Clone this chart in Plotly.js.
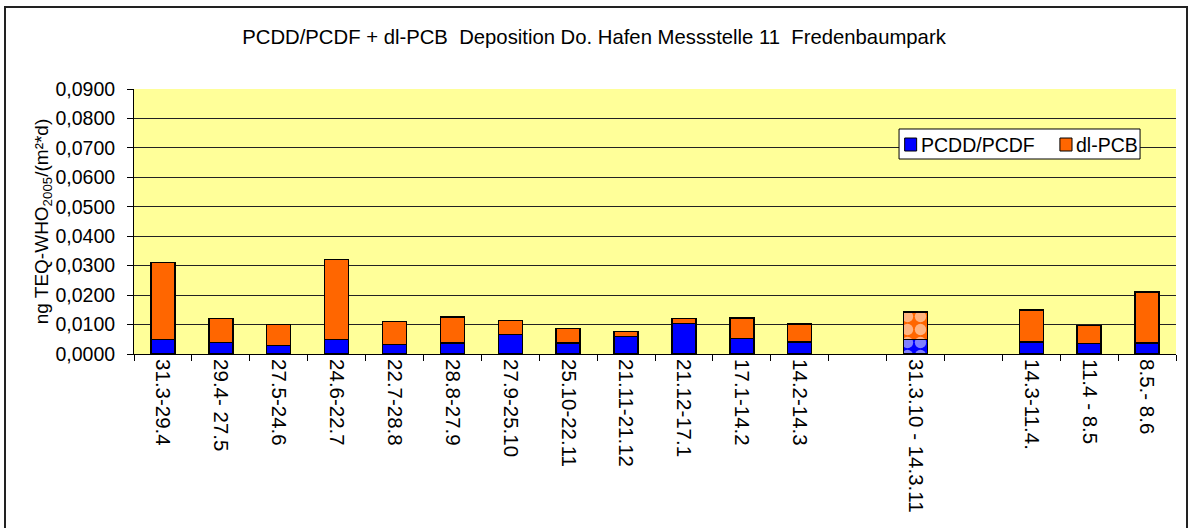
<!DOCTYPE html>
<html>
<head>
<meta charset="utf-8">
<script src="https://cdn.plot.ly/plotly-3.0.1.min.js"></script>
<style>
  html, body { margin: 0; padding: 0; background: #ffffff; }
  #chart { width: 1188px; height: 528px; }
  #frame { position: absolute; left: 4px; top: 6px; width: 1184px; height: 540px;
           border: 2px solid #222; box-sizing: border-box; pointer-events: none; }
</style>
</head>
<body>
<div id="chart"></div>
<div id="frame"></div>
<script>
// Categories (two empty slots kept as gaps)
const categories = ["c1","c2","c3","c4","c5","c6","c7","c8","c9","c10","c11","c12","gap1","c14","gap2","c16","c17","c18"];
const tickLabels = ["31.3-29.4","29.4- 27.5","27.5-24.6","24.6-22.7","22.7-28.8","28.8-27.9","27.9-25.10","25.10-22.11","21.11-21.12","21.12-17.1","17.1-14.2","14.2-14.3","","31.3.10 - 14.3.11","","14.3-11.4.","11.4 - 8.5","8.5.- 8.6"];
const pcddPcdf = [0.0050,0.0039,0.0029,0.0050,0.0033,0.0037,0.0066,0.0038,0.0060,0.0103,0.0053,0.0041,null,0.0049,null,0.0041,0.0035,0.0038];
const dlPcb    = [0.0260,0.0081,0.0071,0.0271,0.0078,0.0089,0.0048,0.0049,0.0016,0.0018,0.0069,0.0061,null,0.0094,null,0.0109,0.0061,0.0173];
const patterned = [false,false,false,false,false,false,false,false,false,false,false,false,false,true,false,false,false,false];
const seriesNames = ["PCDD/PCDF", "dl-PCB"];
const seriesColors = ["#0000FF", "#FF6600"];

const shapesPat = patterned.map(p => p ? "." : "");

const traces = [pcddPcdf, dlPcb].map((vals, i) => ({
  type: "bar", name: seriesNames[i], x: categories, y: vals,
  marker: { color: seriesColors[i], line: { color: "#000000", width: 1.5 },
            pattern: { shape: shapesPat, fillmode: "overlay", fgcolor: "#FFFFFF", size: 13, solidity: 0.6 } },
  hoverinfo: "skip"
}));

const FONT = "Liberation Sans, Arial, sans-serif";

// Legend box (drawn with paper-referenced shapes / annotations)
const legendShapes = [
  { type: "rect", xref: "paper", yref: "paper", x0: 0.7342, x1: 0.9655, y0: 0.7358, y1: 0.8491,
    fillcolor: "#FFFFFF", line: { color: "#000000", width: 1 }, layer: "above" },
  { type: "rect", xref: "paper", yref: "paper", x0: 0.7396, x1: 0.7511, y0: 0.7660, y1: 0.8150,
    fillcolor: seriesColors[0], line: { color: "#000000", width: 1 }, layer: "above" },
  { type: "rect", xref: "paper", yref: "paper", x0: 0.8886, x1: 0.9002, y0: 0.7660, y1: 0.8150,
    fillcolor: seriesColors[1], line: { color: "#000000", width: 1 }, layer: "above" }
];
const legendAnn = [
  { xref: "paper", yref: "paper", x: 0.7530, y: 0.7905, xanchor: "left", yanchor: "middle",
    text: seriesNames[0], showarrow: false, font: { family: FONT, size: 19.5, color: "#000" } },
  { xref: "paper", yref: "paper", x: 0.9020, y: 0.7905, xanchor: "left", yanchor: "middle",
    text: seriesNames[1], showarrow: false, font: { family: FONT, size: 19.5, color: "#000" } }
];

const layout = {
  width: 1188, height: 528,
  margin: { l: 134, r: 12, t: 89, b: 174 },
  paper_bgcolor: "#FFFFFF",
  plot_bgcolor: "#FFFF99",
  barmode: "stack",
  bargap: 0.585,
  font: { family: FONT, size: 19.5, color: "#000000" },
  separators: ",.",
  title: {
    text: "PCDD/PCDF + dl-PCB  Deposition Do. Hafen Messstelle 11  Fredenbaumpark",
    font: { family: FONT, size: 20.3, color: "#000000" },
    x: 0.5, xref: "container", xanchor: "center", y: 0.93, yref: "container", yanchor: "middle"
  },
  showlegend: false,
  shapes: legendShapes,
  annotations: legendAnn,
  xaxis: {
    type: "category", categoryorder: "array", categoryarray: categories,
    tickvals: categories, ticktext: tickLabels,
    tickangle: 90, tickson: "boundaries", ticks: "outside", ticklen: 6, tickcolor: "#000000",
    showline: true, linecolor: "#000000", linewidth: 1,
    showgrid: false, zeroline: false, fixedrange: true, automargin: false,
    tickfont: { size: 20.5 }
  },
  yaxis: {
    range: [0, 0.09], dtick: 0.01, tick0: 0, tickformat: ".4f",
    ticks: "outside", ticklen: 6, tickcolor: "#000000", ticklabelstandoff: 8,
    showline: true, linecolor: "#000000", linewidth: 1,
    showgrid: true, gridcolor: "#222222", gridwidth: 1, zeroline: false,
    automargin: false, fixedrange: true,
    tickfont: { size: 19.5 },
    title: { text: "ng TEQ-WHO<sub>2005</sub>/(m²*d)", font: { size: 19 }, standoff: 0 }
  }
};

Plotly.newPlot("chart", traces, layout, { displayModeBar: false, staticPlot: true });
</script>
</body>
</html>
